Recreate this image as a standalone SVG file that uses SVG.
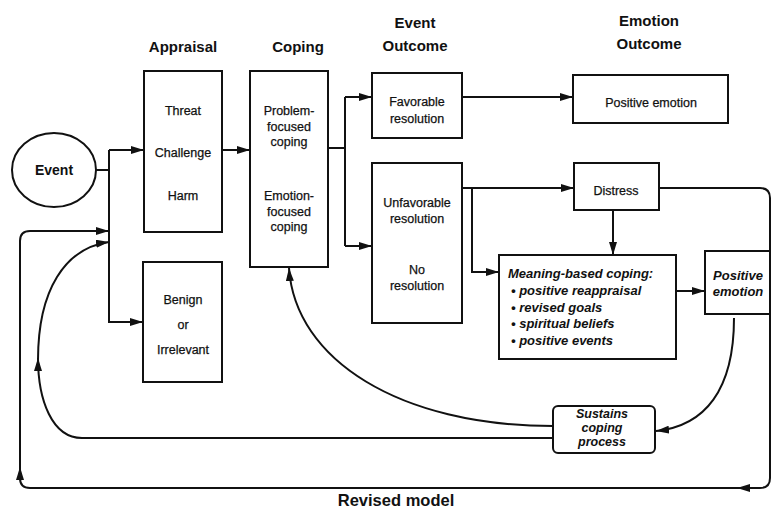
<svg xmlns="http://www.w3.org/2000/svg" width="775" height="511" viewBox="0 0 775 511">
<defs>
<style>
.box{fill:#fff;stroke:#111;stroke-width:2}
.ln{fill:none;stroke:#111;stroke-width:2}
.t{font-family:"Liberation Sans",Arial,sans-serif;font-size:12.5px;fill:#111;text-anchor:middle;stroke:#111;stroke-width:0.25}
.h{font-family:"Liberation Sans",Arial,sans-serif;font-size:15px;font-weight:bold;fill:#111;text-anchor:middle}
.bi{font-family:"Liberation Sans",Arial,sans-serif;font-size:13px;font-weight:bold;font-style:italic;fill:#111}
.c{text-anchor:middle}
</style>
<marker id="ah" viewBox="0 0 13 8" refX="13" refY="4" markerWidth="13" markerHeight="8" orient="auto" markerUnits="userSpaceOnUse">
<path d="M0,0 L13,4 L0,8 z" fill="#111"/>
</marker>
</defs>
<rect width="775" height="511" fill="#fff"/>

<g id="headers">
<text class="h" x="183" y="52">Appraisal</text>
<text class="h" x="298" y="52">Coping</text>
<text class="h" x="415" y="28">Event</text>
<text class="h" x="415" y="51">Outcome</text>
<text class="h" x="649" y="26">Emotion</text>
<text class="h" x="649" y="49">Outcome</text>
<text class="h" x="396" y="506" style="font-size:16.5px">Revised model</text>
</g>

<g id="connectors">
<path class="ln" d="M96,170 L109,170"/>
<path class="ln" d="M109,150 L109,323"/>
<path class="ln" d="M109,150 L144,150" marker-end="url(#ah)"/>
<path class="ln" d="M109,322 L143,322" marker-end="url(#ah)"/>
<path class="ln" d="M222,150 L250,150" marker-end="url(#ah)"/>
<path class="ln" d="M328,148 L345,148"/>
<path class="ln" d="M345,97 L345,246"/>
<path class="ln" d="M345,97 L372,97" marker-end="url(#ah)"/>
<path class="ln" d="M345,246 L372,246" marker-end="url(#ah)"/>
<path class="ln" d="M462,97 L573,97" marker-end="url(#ah)"/>
<path class="ln" d="M462,188 L574,188" marker-end="url(#ah)"/>
<path class="ln" d="M472,188 L472,272 L499,272" marker-end="url(#ah)"/>
<path class="ln" d="M613,210 L613,255" marker-end="url(#ah)"/>
<path class="ln" d="M676,291 L705,291" marker-end="url(#ah)"/>
<path class="ln" d="M734,318 C734,390 705,426 656,431" marker-end="url(#ah)"/>
<path class="ln" d="M553,426 C400,426 295,360 289,268" marker-end="url(#ah)"/>
<path class="ln" d="M553,438 L82,438 C52,438 38,400 38,358" marker-end="url(#ah)"/>
<path class="ln" d="M38,360 C38,290 65,248 109,242" marker-end="url(#ah)"/>
<path class="ln" d="M659,188 L760,188 Q770,188 770,198 L770,478 Q770,488 760,488 L737,488" marker-end="url(#ah)"/>
<path class="ln" d="M740,488 L30,488 Q20,488 20,478 L20,467" marker-end="url(#ah)"/>
<path class="ln" d="M20,470 L20,241 Q20,231 30,231 L109,231" marker-end="url(#ah)"/>
</g>

<g id="event">
<ellipse class="box" cx="54" cy="170" rx="42" ry="37"/>
<text class="t" x="54" y="175" style="font-size:14px;font-weight:bold;stroke-width:0">Event</text>
</g>

<g id="appraisal-threat">
<rect class="box" x="144" y="71" width="78" height="161"/>
<text class="t" x="183" y="115">Threat</text>
<text class="t" x="183" y="157">Challenge</text>
<text class="t" x="183" y="200">Harm</text>
</g>

<g id="appraisal-benign">
<rect class="box" x="143" y="262" width="79" height="120"/>
<text class="t" x="183" y="304">Benign</text>
<text class="t" x="183" y="329">or</text>
<text class="t" x="183" y="354">Irrelevant</text>
</g>

<g id="coping">
<rect class="box" x="250" y="71" width="78" height="196"/>
<text class="t" x="289" y="115">Problem-</text>
<text class="t" x="289" y="131">focused</text>
<text class="t" x="289" y="146">coping</text>
<text class="t" x="289" y="200">Emotion-</text>
<text class="t" x="289" y="216">focused</text>
<text class="t" x="289" y="231">coping</text>
</g>

<g id="favorable">
<rect class="box" x="372" y="73" width="90" height="65"/>
<text class="t" x="417" y="106">Favorable</text>
<text class="t" x="417" y="123">resolution</text>
</g>

<g id="unfavorable">
<rect class="box" x="372" y="163" width="90" height="160"/>
<text class="t" x="417" y="207">Unfavorable</text>
<text class="t" x="417" y="223">resolution</text>
<text class="t" x="417" y="274">No</text>
<text class="t" x="417" y="290">resolution</text>
</g>

<g id="positive-emotion">
<rect class="box" x="573" y="75" width="155" height="48"/>
<text class="t" x="651" y="107">Positive emotion</text>
</g>

<g id="distress">
<rect class="box" x="574" y="163" width="85" height="47"/>
<text class="t" x="616" y="195">Distress</text>
</g>

<g id="meaning">
<rect class="box" x="499" y="255" width="177" height="104"/>
<text class="bi" x="508" y="278">Meaning-based coping:</text>
<text class="bi" x="511" y="295">• positive reappraisal</text>
<text class="bi" x="511" y="312">• revised goals</text>
<text class="bi" x="511" y="328">• spiritual beliefs</text>
<text class="bi" x="511" y="345">• positive events</text>
</g>

<g id="positive-emotion-2">
<rect class="box" x="705" y="251" width="65" height="63"/>
<text class="bi c" x="738" y="280">Positive</text>
<text class="bi c" x="738" y="296">emotion</text>
</g>

<g id="sustains">
<rect class="box" x="553" y="406" width="102" height="47" rx="5"/>
<text class="bi c" x="602" y="418" style="font-size:12.5px">Sustains</text>
<text class="bi c" x="602" y="432" style="font-size:12.5px">coping</text>
<text class="bi c" x="602" y="446" style="font-size:12.5px">process</text>
</g>
</svg>
